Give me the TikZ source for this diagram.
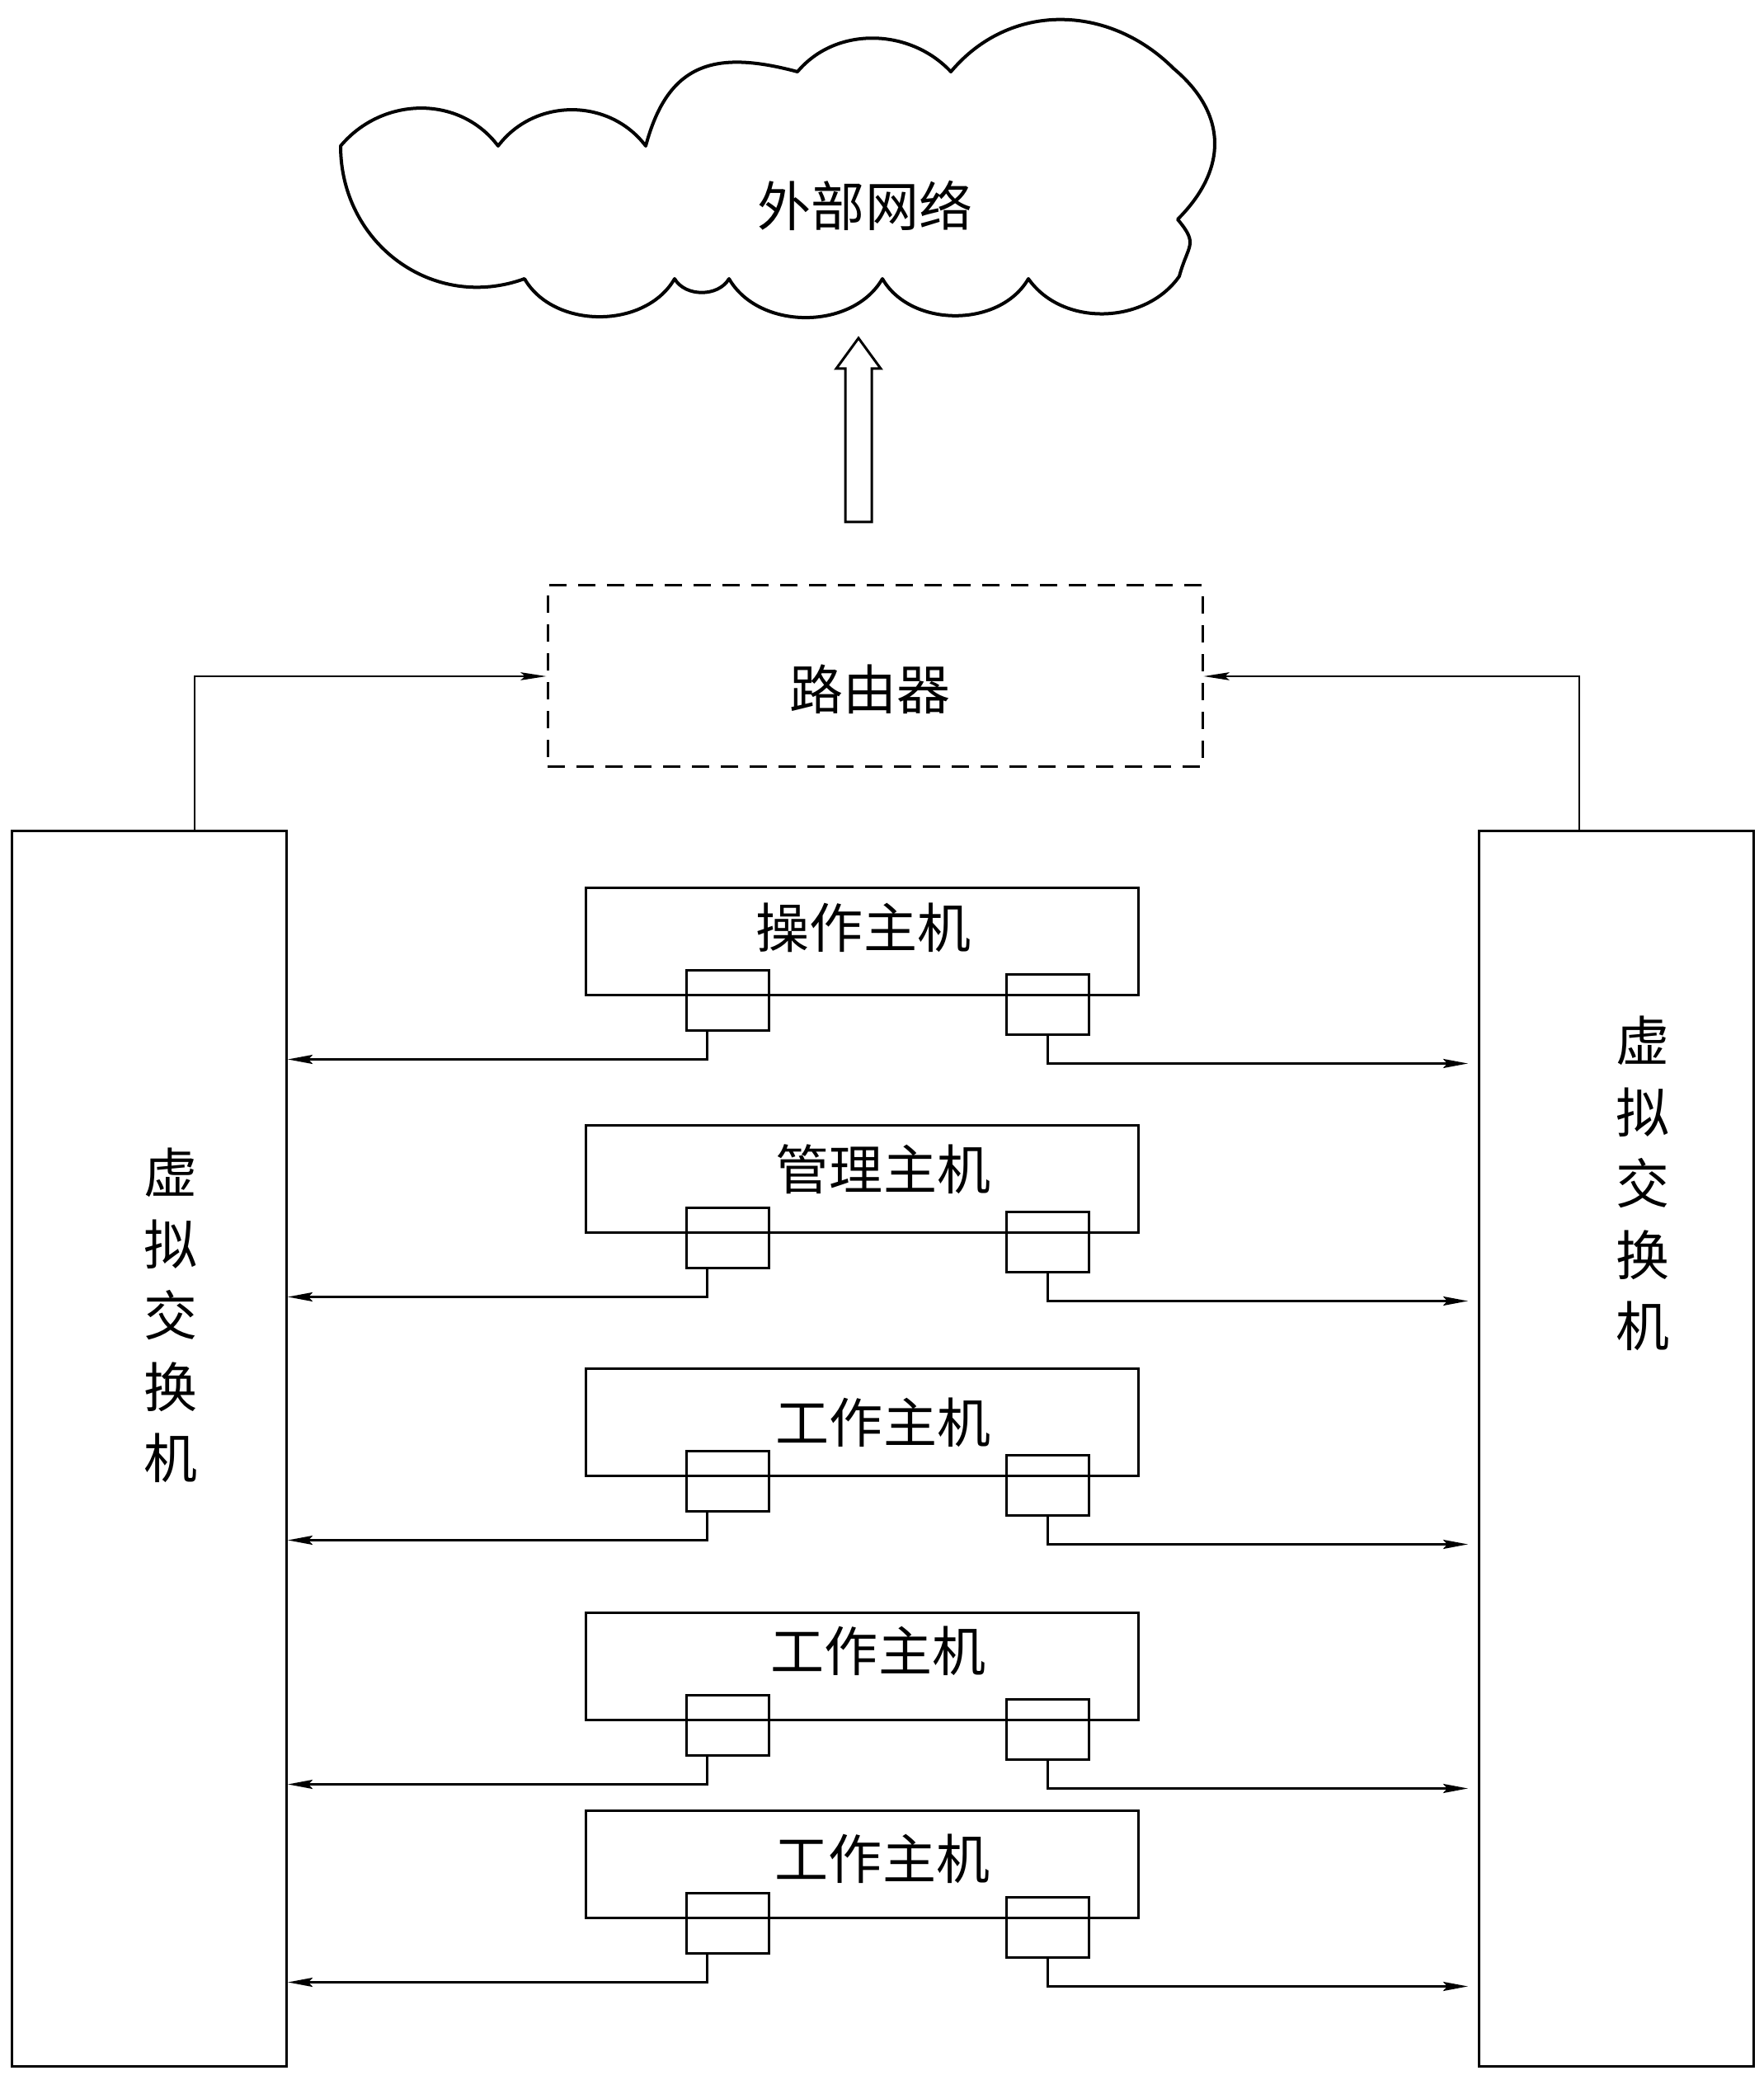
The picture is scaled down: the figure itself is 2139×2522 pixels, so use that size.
\documentclass[tikz,border=0pt]{standalone}
\usepackage{fontspec}
\newfontfamily\cjk{Noto Sans CJK SC}
\usetikzlibrary{arrows.meta}
\usetikzlibrary{calc,positioning}

\tikzset{
  box/.style={draw,line width=0.3mm,inner sep=0pt},
  hostbox/.style={box,minimum width=67mm,minimum height=13mm},
  portbox/.style={box,minimum width=10mm,minimum height=7.3mm},
  switchbox/.style={box,minimum width=33.3mm,minimum height=149.8mm},
  routerbox/.style={draw,line width=0.3mm,dash pattern=on 2.1mm off 1.4mm,
    minimum width=79.4mm,minimum height=22mm},
  lbl/.style={font=\cjk\fontsize{18.5}{24.6}\selectfont,inner sep=0pt},
  link/.style={line width=0.3mm,-{Stealth[length=3mm,width=1.1mm,inset=0.5mm]}},
  uplink/.style={line width=0.25mm,-{Stealth[length=3.1mm,width=0.95mm,inset=0.5mm]}},
  cloudline/.style={line width=0.4mm,line join=round},
}

\begin{document}
\begin{tikzpicture}[x=0.1mm,y=0.1mm]
\useasboundingbox (0,0) rectangle (2139,2522);

% cloud
\draw[cloudline] (413,2345)
  to[out=50,in=127,looseness=1.05] (604,2345)
  to[out=53,in=127,looseness=1.05] (783,2345)
  to[out=75,in=165,looseness=1.3] (967,2435)
  to[out=50,in=133] (1153,2435)
  to[out=50,in=135,looseness=1.05] (1423,2439)
  to[out=-40,in=45,looseness=1.2] (1428,2256)
  to[out=-50,in=75,looseness=1.5] (1430,2187)
  to[out=-125,in=-55] (1247,2184)
  to[out=-120,in=-60] (1070,2184)
  to[out=-120,in=-60] (884,2184)
  to[out=-120,in=-60] (818,2184)
  to[out=-120,in=-60] (636,2184)
  to[out=-160,in=-90,looseness=1.1] (413,2345) -- cycle;
\node[lbl] (nettxt) at (1049,2273) {外部网络};

% block arrow up to the cloud
\coordinate (ab) at (1041,1889);
\draw[line width=0.3mm] ($(ab)+(-16,0)$) -- ++(0,186) -- ++(-11,0) -- ++(27,37)
  -- ++(27,-37) -- ++(-11,0) -- ++(0,-186) -- cycle;

% router
\node[routerbox] (router) at (1061,1702) {};
\node[lbl] (routertxt) at (1055,1686) {路由器};

% virtual switches
\node[switchbox] (swL) at (181,765) {};
\node[switchbox] (swR) at (1960,765) {};
\node[lbl,align=center] (swLtxt) at (207,927) {虚\\拟\\交\\换\\机};
\node[lbl,align=center] (swRtxt) at (1992,1087) {虚\\拟\\交\\换\\机};

\draw[uplink] ([xshift=5.5mm]swL.north) |- (router.west);
\draw[uplink] ([xshift=-4.5mm]swR.north) |- (router.east);

% hosts
\foreach \t/\lab/\tx/\ty [count=\i] in {1077/操作主机/1047/1397,
    1365/管理主机/1071/1104, 1660/工作主机/1071/797,
    1956/工作主机/1065/520, 2196/工作主机/1070/268} {
  \node[hostbox] (h\i) at (1045,{2457-\t}) {};
  \node[lbl] (htxt\i) at (\tx,\ty) {\lab};
  \node[portbox] (pl\i) at (882,{2385.5-\t}) {};
  \node[portbox] (pr\i) at (1270,{2380.5-\t}) {};
  \draw[link] ([xshift=-2.5mm]pl\i.south) |- ($(pl\i.south -| swL.east)+(0,-33)$);
  \draw[link] (pr\i.south) |- ($(pr\i.south -| swR.west)+(-12,-33)$);
}
\end{tikzpicture}
\end{document}
